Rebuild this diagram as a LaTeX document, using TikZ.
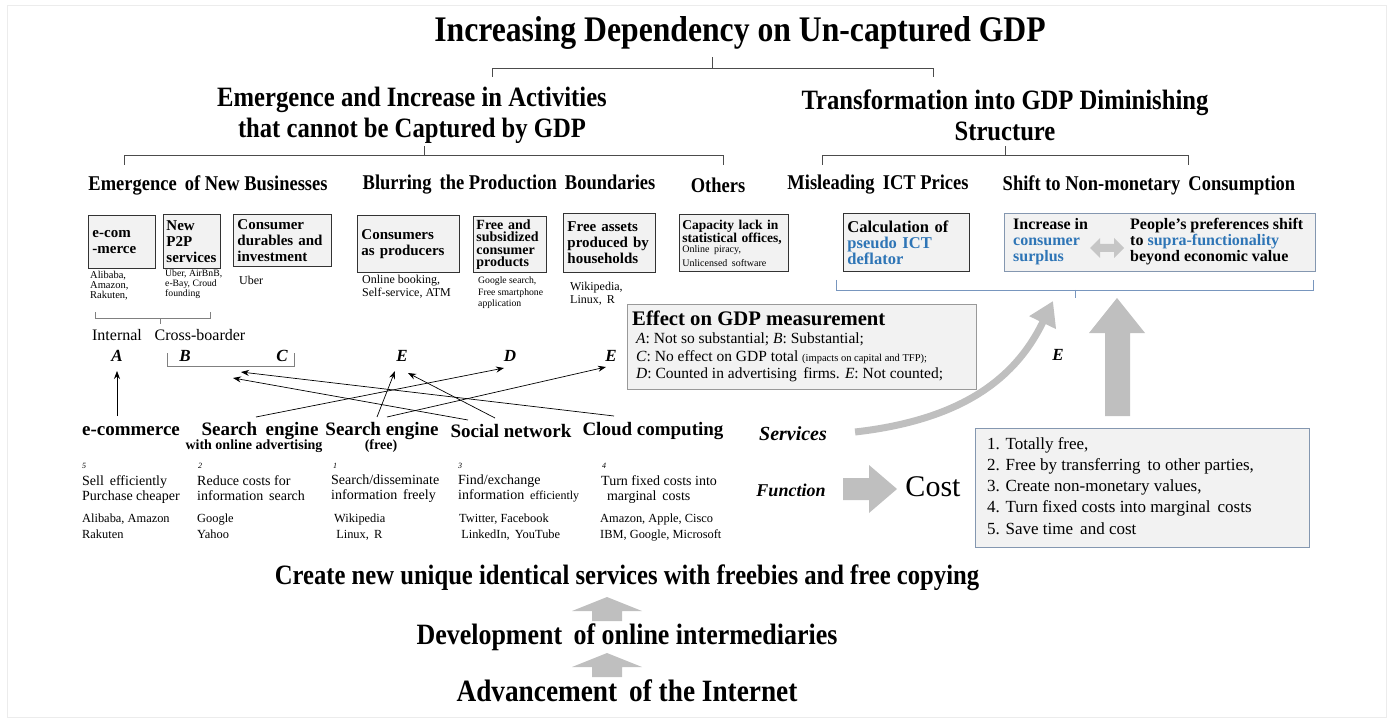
\documentclass[tikz,border=0pt]{standalone}
\usepackage{fontspec}
\setmainfont{Liberation Serif}
\newfontfamily\cf[FakeStretch=0.88]{Liberation Serif}
\usetikzlibrary{arrows.meta,calc}
\definecolor{myblue}{RGB}{46,117,182}
\definecolor{boxline}{RGB}{132,151,176}
\definecolor{boxfill}{RGB}{242,242,242}
\definecolor{arrgray}{RGB}{191,191,191}
\definecolor{bracecol}{RGB}{120,150,190}
\begin{document}
\begin{tikzpicture}[x=1pt,y=-1pt,
 every node/.style={inner sep=0pt},
 hA/.style={font=\cf\bfseries\fontsize{36}{40}\selectfont},
 hB/.style={font=\cf\bfseries\fontsize{28}{31}\selectfont, align=center},
 hC/.style={font=\cf\bfseries\fontsize{21}{22}\selectfont},
 bx/.style={draw=black!80, fill=boxfill, line width=0.9pt, anchor=north west, align=left, inner sep=4pt, font=\bfseries\fontsize{15}{16}\selectfont},
 capt/.style={anchor=north west, align=left, font=\fontsize{10.5}{10}\selectfont},
 captL/.style={anchor=north west, align=left, font=\fontsize{12}{13}\selectfont},
 brace/.style={line width=0.6pt, black!70},
 lett/.style={font=\bfseries\itshape\fontsize{17}{17}\selectfont},
 sv/.style={font=\bfseries\fontsize{19}{20}\selectfont},
 subh/.style={font=\bfseries\fontsize{14}{15}\selectfont},
 numb/.style={anchor=west, font=\itshape\fontsize{8}{8}\selectfont},
 desc/.style={anchor=north west, align=left, font=\fontsize{14}{15}\selectfont},
 exm/.style={anchor=north west, align=left, font=\fontsize{12.4}{16}\selectfont},
 con/.style={-{Stealth[length=8pt,width=6pt]}, line width=0.7pt},
 lst/.style={anchor=west, font=\fontsize{17}{17}\selectfont},
 eff/.style={anchor=west, font=\fontsize{15.5}{16}\selectfont},
]
\useasboundingbox (0,0) rectangle (1393,722);
\draw[gray!15, line width=0.6pt] (7,5) rectangle (1386,717);

% Title and top brace
\node[hA] (title) at (740,33) {Increasing Dependency on Un-captured GDP};
\draw[brace] (492,77) -- (492,68) -- (933,68) -- (933,77);
\draw[brace] (712,68) -- (712,57);

% Level 2
\node[hB] (left2) at (412,115) {Emergence and Increase in Activities\\that cannot be Captured by GDP};
\node[hB] (right2) at (1005,115) {Transformation into GDP Diminishing\\Structure};
\draw[brace] (124,165) -- (124,155) -- (723,155) -- (723,165);
\draw[brace] (424,155) -- (424,146);
\draw[brace] (822,165) -- (822,155) -- (1188,155) -- (1188,165);
\draw[brace] (1005,155) -- (1005,146);

% Level 3
\node[hC] (h31) at (208,185) {Emergence\, of New Businesses};
\node[hC] (h32) at (509,185) {Blurring\, the Production\, Boundaries};
\node[hC] (h33) at (718,185) {Others};
\node[hC] (h34) at (878,185) {Misleading\, ICT Prices};
\node[hC] (h35) at (1149,185) {Shift to Non-monetary\, Consumption};

% Boxes
\node[bx, text width=59pt, minimum height=53pt] (b1) at (88,215) {e-com\\-merce};
\node[bx, text width=51pt, minimum height=54pt, inner sep=3pt] (b2) at (163,214) {New\\P2P\\services};
\node[bx, text width=90pt, minimum height=52pt] (b3) at (233,214) {Consumer\\durables and\\investment};
\node[bx, text width=94pt, minimum height=57pt] (b4) at (357,215) {Consumers\\as producers};
\node[bx, text width=67pt, minimum height=55pt, inner sep=3pt, font=\bfseries\fontsize{14}{12.5}\selectfont] (b5) at (473,216) {Free and\\subsidized\\consumer\\products};
\node[bx, text width=84pt, minimum height=59pt] (b6) at (563,213) {Free assets\\produced by\\households};
\node[bx, text width=103pt, minimum height=57pt, inner sep=3pt, font=\bfseries\fontsize{13.5}{13.5}\selectfont] (b7) at (679,214) {Capacity lack in\\statistical offices,\\{\mdseries\fontsize{10}{10}\selectfont Online piracy,\\Unlicensed software}};
\node[bx, text width=118pt, minimum height=58pt, font=\bfseries\fontsize{16.5}{16}\selectfont] (b8) at (843,213) {Calculation of\\\textcolor{myblue}{pseudo ICT}\\\textcolor{myblue}{deflator}};
\node[draw=boxline, fill=boxfill, line width=0.9pt, anchor=north west, minimum width=311pt, minimum height=58pt] (b9) at (1004,213) {};
\node[anchor=north west, align=left, font=\bfseries\fontsize{16}{16}\selectfont] (b9l) at (1013,218) {Increase in\\\textcolor{myblue}{consumer}\\\textcolor{myblue}{surplus}};
\node[anchor=north west, align=left, font=\bfseries\fontsize{16}{16}\selectfont] (b9r) at (1130,218) {People’s preferences shift\\to \textcolor{myblue}{supra-functionality}\\beyond economic value};
\fill[gray!45] (1090,248) -- (1100,238) -- (1100,244) -- (1114,244) -- (1114,238) -- (1124,248) -- (1114,258) -- (1114,252) -- (1100,252) -- (1100,258) -- cycle;

% blue brace under right boxes
\draw[bracecol, line width=0.6pt] (836,280) -- (836,290) -- (1313,290) -- (1313,280);
\draw[bracecol, line width=0.6pt] (1075,290) -- (1075,298);
\coordinate (bk) at (1075,298);

% Captions
\node[capt] (c1) at (90,271) {Alibaba,\\Amazon,\\Rakuten,};
\node[capt, font=\fontsize{9.7}{10}\selectfont] (c2) at (165,270) {Uber, AirBnB,\\e-Bay, Croud\\founding};
\node[captL] (c3) at (239,276) {Uber};
\node[captL] (c4) at (362,275) {Online booking,\\Self-service, ATM};
\node[capt, font=\fontsize{9.7}{11.5}\selectfont] (c5) at (478,277) {Google search,\\Free smartphone\\application};
\node[captL] (c6) at (570,282) {Wikipedia,\\Linux,\, R};

% small brace
\draw[brace, gray] (95,312) -- (95,318) -- (210,318) -- (210,312);
\draw[brace, gray] (160,318) -- (160,324);
\node[font=\fontsize{16}{16}\selectfont] (int) at (117,335) {Internal};
\node[font=\fontsize{16}{16}\selectfont] (cb) at (200,335) {Cross-boarder};

% Letters
\node[lett] (A) at (117,356) {A};
\node[lett] (B) at (185,356) {B};
\node[lett] (C) at (282,356) {C};
\node[lett] (E1) at (402,356) {E};
\node[lett] (D) at (510,356) {D};
\node[lett] (E2) at (611,356) {E};
\draw[brace, gray] (167,353) -- (167,366) -- (294,366) -- (294,353);
\coordinate (bc) at (230,366);

% Effect box
\node[draw=gray!80, fill=boxfill, line width=0.8pt, anchor=north west, minimum width=349pt, minimum height=85pt] (effbox) at (627,304) {};
\node[anchor=west, font=\bfseries\fontsize{20.7}{21}\selectfont] (efft) at (632,318) {Effect on GDP measurement};
\node[eff] (eff1) at (636,339) {\textit{A}: Not so substantial; \textit{B}: Substantial;};
\node[eff] (eff2) at (636,357) {\textit{C}: No effect on GDP total {\fontsize{10.5}{10}\selectfont(impacts on capital and TFP);}};
\node[eff] (eff3) at (636,375) {\textit{D}: Counted in advertising\, firms. \textit{E}: Not counted;};

% Bottom headings
\node[sv] (ecom) at (131,431) {e-commerce};
\node[sv] (se1) at (260,431) {Search\hspace{0.45em}engine};
\node[subh] (se1s) at (254,446) {with online advertising};
\node[sv] (se2) at (382,431) {Search engine};
\node[subh] (se2s) at (381,446) {(free)};
\node[sv] (sn) at (511,431) {Social network};
\node[sv] (cc) at (653,431) {Cloud computing};

\node[numb] (n1) at (82,466) {5};
\node[numb] (n2) at (198,466) {2};
\node[numb] (n3) at (333,466) {1};
\node[numb] (n4) at (458,466) {3};
\node[numb] (n5) at (602,466) {4};

\node[desc] (d1) at (82,475) {Sell\, efficiently\\Purchase cheaper};
\node[desc] (d2) at (197,475) {Reduce costs for\\information\, search};
\node[desc] (d3) at (331,475) {Search/disseminate\\information\, freely};
\node[desc] (d4) at (458,475) {Find/exchange\\information\, {\fontsize{12}{12}\selectfont efficiently}};
\node[desc] (d5) at (601,475) {Turn fixed costs into\\\, marginal\, costs};

\node[exm] (x1) at (82,514) {Alibaba, Amazon\\Rakuten};
\node[exm] (x2) at (197,514) {Google\\Yahoo};
\node[exm] (x3) at (334,514) {Wikipedia\\\,Linux,\, R};
\node[exm] (x4) at (459,514) {Twitter, Facebook\\\,LinkedIn,\, YouTube};
\node[exm] (x5) at (600,514) {Amazon, Apple, Cisco\\IBM, Google, Microsoft};

% Connectors
\draw[con] ($(ecom.center)+(-14,-15)$) -- ($(A.center)+(0,15)$);
\draw[con] ($(se1.center)+(-4,-14)$) -- ($(D.center)+(-6,12)$);
\draw[con] ($(se2.center)+(-5,-14)$) -- ($(E1.center)+(-7,15)$);
\draw[con] ($(se2.center)+(5,-14)$) -- ($(E2.center)+(-5,11)$);
\draw[con] ($(sn.center)+(-16,-13)$) -- ($(E1.center)+(6,17)$);
\draw[con] ($(sn.center)+(-43,-11)$) -- ($(bc)+(3,12)$);
\draw[con] ($(cc.center)+(-39,-15)$) -- ($(bc)+(11,6)$);

% Services / Function / Cost
\node[font=\bfseries\itshape\fontsize{20}{20}\selectfont] (srv) at (793,434) {Services};
\node[font=\bfseries\itshape\fontsize{18}{18}\selectfont] (fun) at (791,490) {Function};
\node[font=\fontsize{30}{30}\selectfont] (cost) at (933,487) {Cost};
\fill[arrgray] (843,478) -- (869,478) -- (869,465) -- (897,489) -- (869,513) -- (869,500) -- (843,500) -- cycle;

\draw[arrgray, line width=7pt, -{Triangle[width=28pt,length=24pt]}] ($(srv.east)+(28,-2)$) .. controls (960,420) and (1015,380) .. ($(bk)+(-22,3)$);
\node[lett] (E3) at (1058,355) {E};

% big up arrow
\fill[arrgray] (1105,416) -- (1130,416) -- (1130,333) -- (1145,333) -- (1117,298) -- (1089,333) -- (1105,333) -- cycle;

% Cost box
\node[draw=boxline, fill=boxfill, line width=0.9pt, anchor=north west, minimum width=334pt, minimum height=119pt] (costbox) at (975,428) {};
\node[lst] (l1) at (987,445) {1. Totally free,};
\node[lst] (l2) at (987,466) {2. Free by transferring\, to other parties,};
\node[lst] (l3) at (987,487) {3. Create non-monetary values,};
\node[lst] (l4) at (987,508) {4. Turn fixed costs into marginal\, costs};
\node[lst] (l5) at (987,529) {5. Save time\, and cost};

% Bottom
\node[font=\cf\bfseries\fontsize{28}{28}\selectfont] (t1) at (627,578) {Create new unique identical services with freebies and free copying};
\fill[arrgray] (592,621) -- (622,621) -- (622,611) -- (642,611) -- (607,597) -- (572,611) -- (592,611) -- cycle;
\node[font=\cf\bfseries\fontsize{29.5}{30}\selectfont] (t2) at (627,637) {Development\, of online intermediaries};
\fill[arrgray] (592,677) -- (622,677) -- (622,667) -- (642,667) -- (607,653) -- (572,667) -- (592,667) -- cycle;
\node[font=\cf\bfseries\fontsize{31}{31}\selectfont] (t3) at (627,691) {Advancement\, of the Internet};
\end{tikzpicture}
\end{document}
